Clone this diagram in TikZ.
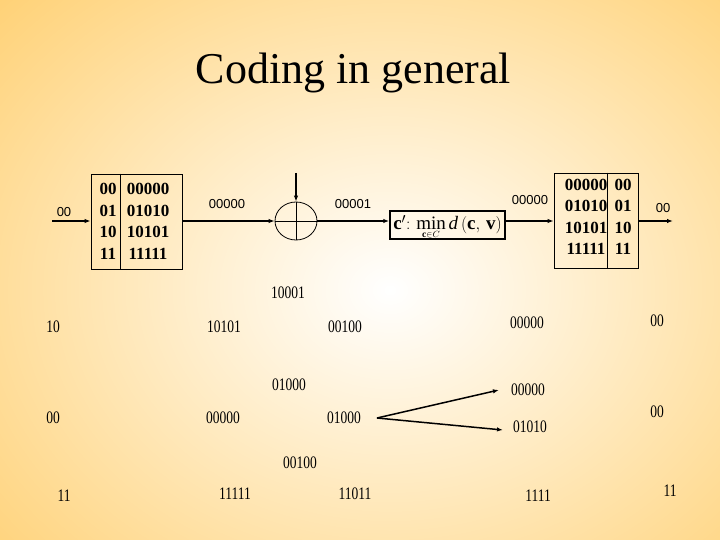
\documentclass[tikz,border=0pt]{standalone}
\usepackage{fontspec}
\setmainfont{Liberation Serif}
\newfontfamily\arialfont{Liberation Sans}
\usetikzlibrary{shapes.geometric,arrows.meta}
\definecolor{bgorange}{RGB}{255,204,102}
\newcommand{\tallnum}[1]{\scalebox{1}[1.3]{#1}}

\begin{document}
\begin{tikzpicture}[x=1pt,y=-1pt,
    arr/.style={line width=1.5pt,-{Latex[length=6pt,width=4.5pt]}},
    sanslbl/.style={font=\arialfont\fontsize{13}{15}\selectfont},
    lowlbl/.style={font=\fontsize{13.5}{15}\selectfont},
    tabtxt/.style={font=\bfseries\fontsize{17}{21.5}\selectfont,align=center},
    codebox/.style={draw,line width=0.8pt,minimum height=95pt}]
  \tikzstyle{every node}+=[inner sep=0pt]
  % background
  \begin{scope}
    \clip (0,0) rectangle (720,540);
    \shade[inner color=white,outer color=bgorange] (390,290) ellipse [x radius=600,y radius=480];
  \end{scope}
  \useasboundingbox (0,0) rectangle (720,540);
  \node[font=\fontsize{44}{50}\selectfont,anchor=base] (title) at (353.5,84) {Coding in general};
  % encoder table
  \node[codebox,minimum width=91pt] (enc) at (136.5,221.5) {};
  \draw[line width=0.8pt] (enc.north west) ++(30,0) -- ++(0,95);
  \node[tabtxt] (encin) at (108,221.5) {00\\01\\10\\11};
  \node[tabtxt] (encout) at (148,221.5) {00000\\01010\\10101\\11111};
  % channel adder
  \node[draw,ellipse,line width=0.8pt,minimum width=42pt,minimum height=38pt] (add) at (296,221) {};
  \draw[line width=0.8pt] (add.north) -- (add.south) (add.west) -- (add.east);
  \coordinate (err) at (296,173);
  % decoder
  \node[draw,line width=1.5pt,minimum width=115pt,minimum height=28pt,font=\fontsize{19}{21}\selectfont] (dec) at (447.5,225) {};
  \node[font=\fontsize{19}{21}\selectfont] (rule) at (447.5,227)
    {$\mathbf{c}'\mathbf{:}\,\min\limits_{\scriptscriptstyle\mathbf{c}\in C}\mathit{d}\,\bigl(\mathbf{c},\,\mathbf{v}\bigr)$};
  % decoding table
  \node[codebox,minimum width=84pt] (dcd) at (596,220.5) {};
  \draw[line width=0.8pt] (dcd.north west) ++(54,0) -- ++(0,95);
  \node[tabtxt] (dcdin) at (586,217) {00000\\01010\\10101\\11111};
  \node[tabtxt] (dcdout) at (623,217) {00\\01\\10\\11};
  % connectors
  \coordinate (src) at (52,221);
  \coordinate (sink) at (673,221);
  \draw[arr] (src) -- (src -| enc.west);
  \draw[arr] (enc.east |- add) -- (add.west);
  \draw[arr] (err) -- (add.north);
  \draw[arr] (add.east) -- (add.east -| dec.west);
  \draw[arr] (add.east -| dec.east) -- (add.east -| dcd.west);
  \draw[arr] (sink -| dcd.east) -- (sink);
  \node[sanslbl] (l0) at (64,212) {00};
  \node[sanslbl] (l1) at (227,204) {00000};
  \node[sanslbl] (l2) at (353,204) {00001};
  \node[sanslbl] (l3) at (530,200) {00000};
  \node[sanslbl] (l4) at (663,208) {00};
  % examples
  \node[lowlbl] (a0) at (288,293) {\tallnum{10001}};
  \node[lowlbl] (a1) at (53,327) {\tallnum{10}};
  \node[lowlbl] (a2) at (224,327) {\tallnum{10101}};
  \node[lowlbl] (a3) at (345,327) {\tallnum{00100}};
  \node[lowlbl] (a4) at (527,323) {\tallnum{00000}};
  \node[lowlbl] (a5) at (657,321) {\tallnum{00}};
  \node[lowlbl] (b0) at (289,385) {\tallnum{01000}};
  \node[lowlbl] (b1) at (53,418) {\tallnum{00}};
  \node[lowlbl] (b2) at (223,418) {\tallnum{00000}};
  \node[lowlbl] (b3) at (344,418) {\tallnum{01000}};
  \node[lowlbl] (b4) at (528,390) {\tallnum{00000}};
  \node[lowlbl] (b5) at (530,427) {\tallnum{01010}};
  \node[lowlbl] (b6) at (657,412) {\tallnum{00}};
  \node[lowlbl] (c0) at (300,463) {\tallnum{00100}};
  \node[lowlbl] (c1) at (64,496) {\tallnum{11}};
  \node[lowlbl] (c2) at (235,494) {\tallnum{11111}};
  \node[lowlbl] (c3) at (355,494) {\tallnum{11011}};
  \node[lowlbl] (c4) at (538,496) {\tallnum{1111}};
  \node[lowlbl] (c5) at (670,491) {\tallnum{11}};
  \coordinate (fork) at (377,418);
  \draw[arr] (fork) -- ([xshift=-12pt]b4.west);
  \draw[arr] (fork) -- ([xshift=-10pt,yshift=-3pt]b5.west);
\end{tikzpicture}
\end{document}
